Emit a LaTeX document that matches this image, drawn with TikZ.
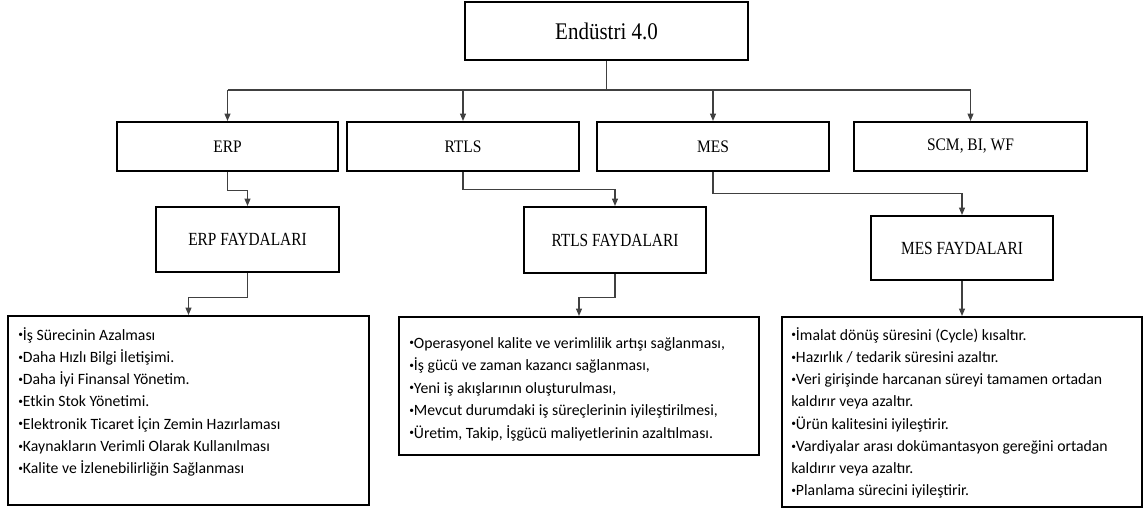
\documentclass[tikz,border=0pt]{standalone}
\usepackage{fontspec}
\setmainfont[FakeStretch=0.88]{Liberation Serif}
\newfontfamily\listfont{Carlito}
\newfontfamily\narrowserif[FakeStretch=0.83]{Liberation Serif}
\usetikzlibrary{arrows.meta}
% small list bullet
\newcommand\blt{\raisebox{0.3ex}{\scalebox{0.6}{•}}}

\begin{document}
\begin{tikzpicture}[x=0.75pt,y=-0.75pt,
  box/.style={draw=black, line width=1.6pt, fill=white, inner sep=0pt},
  lvltwo/.style={box, minimum height=49*0.75pt, font=\fontsize{13.2pt}{15pt}\selectfont},
  benefit/.style={box, font=\narrowserif\fontsize{13.9pt}{16pt}\selectfont},
  listbox/.style={box},
  listtext/.style={anchor=base west, inner sep=0pt, font=\listfont\fontsize{11.8pt}{16.7pt}\selectfont},
  conn/.style={draw=black!75, line width=0.8pt},
  arr/.style={conn, -{Triangle[length=5.5pt,width=4.5pt]}}
]
\useasboundingbox (0,0) rectangle (1144,511);

% top level
\node[box, minimum width=283*0.75pt, minimum height=58*0.75pt,
      font=\fontsize{17.9pt}{20pt}\selectfont] (top) at (606.5,31) {Endüstri 4.0};

% systems
\node[lvltwo, minimum width=221*0.75pt] (erp)  at (227.5,146.5) {ERP};
\node[lvltwo, minimum width=232*0.75pt] (rtls) at (463,146.5)   {RTLS};
\node[lvltwo, minimum width=232*0.75pt] (mes)  at (713,146.5)   {MES};
\node[lvltwo, minimum width=233*0.75pt] (scm)  at (970.5,146.5) {SCM, BI, WF};

% benefit headers
\node[benefit, minimum width=183*0.75pt, minimum height=65*0.75pt] (erpf)  at (247.5,239.5) {ERP FAYDALARI};
\node[benefit, minimum width=182*0.75pt, minimum height=66*0.75pt] (rtlsf) at (615,240)     {RTLS FAYDALARI};
\node[benefit, minimum width=182*0.75pt, minimum height=64*0.75pt] (mesf)  at (962,248)     {MES FAYDALARI};

% benefit lists (frames)
\node[listbox, minimum width=361*0.75pt, minimum height=189*0.75pt] (erpl)  at (188.5,410.5) {};
\node[listbox, minimum width=360*0.75pt, minimum height=138*0.75pt] (rtlsl) at (579,386)     {};
\node[listbox, minimum width=360*0.75pt, minimum height=190*0.75pt] (mesl)  at (962,412)     {};

% benefit lists (text)
\node[listtext] (erpt) at (18,340) {\parbox[t]{340pt}{\raggedright\fontsize{11.8pt}{16.7pt}\selectfont
\blt İş Sürecinin Azalması\\
\blt Daha Hızlı Bilgi İletişimi.\\
\blt Daha İyi Finansal Yönetim.\\
\blt Etkin Stok Yönetimi.\\
\blt Elektronik Ticaret İçin Zemin Hazırlaması\\
\blt Kaynakların Verimli Olarak Kullanılması\\
\blt Kalite ve İzlenebilirliğin Sağlanması}};

\node[listtext] (rtlst) at (409,348) {\parbox[t]{340pt}{\raggedright\fontsize{11.8pt}{16.9pt}\selectfont
\blt Operasyonel kalite ve verimlilik artışı sağlanması,\\
\blt İş gücü ve zaman kazancı sağlanması,\\
\blt Yeni iş akışlarının oluşturulması,\\
\blt Mevcut durumdaki iş süreçlerinin iyileştirilmesi,\\
\blt Üretim, Takip, İşgücü maliyetlerinin azaltılması.}};

\node[listtext] (mest) at (791,340) {\parbox[t]{340pt}{\raggedright\fontsize{11.8pt}{16.7pt}\selectfont
\blt İmalat dönüş süresini (Cycle) kısaltır.\\
\blt Hazırlık / tedarik süresini azaltır.\\
\blt Veri girişinde harcanan süreyi tamamen ortadan\\
kaldırır veya azaltır.\\
\blt Ürün kalitesini iyileştirir.\\
\blt Vardiyalar arası dokümantasyon gereğini ortadan\\
kaldırır veya azaltır.\\
\blt Planlama sürecini iyileştirir.}};

% top-level distribution bus
\coordinate (bus) at (606.5,90);
\draw[conn] (top.south) -- (bus);
\draw[conn] (erp.north |- bus) -- (scm.north |- bus);
\draw[arr] (erp.north |- bus)  -- (erp.north);
\draw[arr] (rtls.north |- bus) -- (rtls.north);
\draw[arr] (mes.north |- bus)  -- (mes.north);
\draw[arr] (scm.north |- bus)  -- (scm.north);

% system -> benefit header
\draw[arr] (erp.south)  -- ++(0,18) -| (erpf.north);
\draw[arr] (rtls.south) -- ++(0,17) -| (rtlsf.north);
\draw[arr] (mes.south)  -- ++(0,21) -| (mesf.north);

% benefit header -> list
\draw[arr] (erpf.south)  -- ++(0,24) -| (erpl.north);
\draw[arr] (rtlsf.south) -- ++(0,23) -| (rtlsl.north);
\draw[arr] (mesf.south) -- (mesl.north);
\end{tikzpicture}
\end{document}
